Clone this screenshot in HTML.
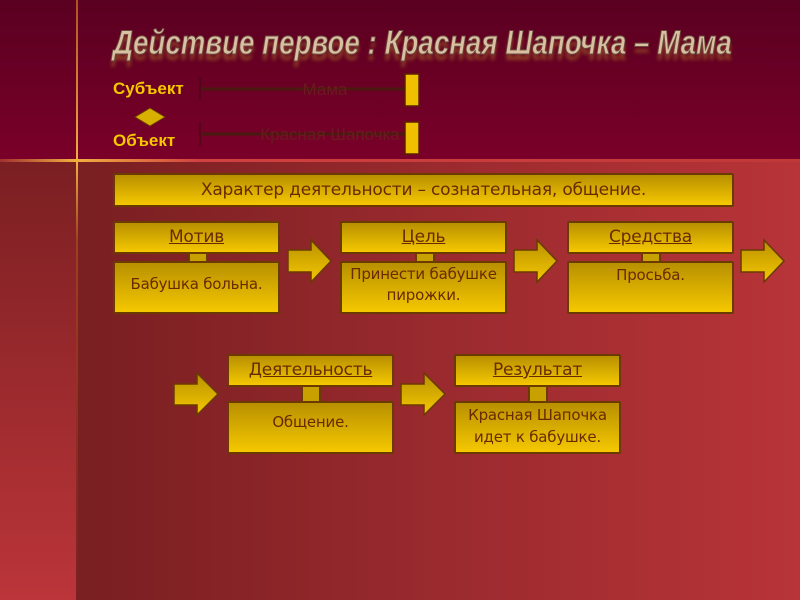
<!DOCTYPE html>
<html><head><meta charset="utf-8"><style>
*{margin:0;padding:0;box-sizing:border-box}
body{width:800px;height:600px;overflow:hidden;position:relative;font-family:"DejaVu Sans","Liberation Sans",sans-serif;background:linear-gradient(90deg,#7a1f22 0%,#7a1f22 12%,#9a2a2e 55%,#b83438 100%)}
.top{position:absolute;left:0;top:0;width:800px;height:160px;background:linear-gradient(180deg,#5a0020,#7a0029)}
.left{position:absolute;left:0;top:160px;width:77px;height:440px;background:linear-gradient(180deg,#7a1f22,#bb3539)}
.vl{position:absolute;left:76px;top:0;width:2px;height:600px;background:linear-gradient(180deg,#b05020,#f0b040 27%,#a04020 40%,#7a2020)}
.hl{position:absolute;left:0;top:159px;width:800px;height:3px;background:linear-gradient(90deg,#a03030,#f0b040 9.5%,#d04040 25%,#c03838)}
.box{position:absolute;border:2px solid #6a3a00;background:linear-gradient(180deg,#b89000,#f5c800);color:#6a2a00;text-align:center;font-size:15px;border-radius:2px;letter-spacing:-0.2px}
.h{text-decoration:underline;font-size:17px;line-height:28px}
.st{position:absolute;background:#c8a000;border-left:2px solid #6a3a00;border-right:2px solid #6a3a00}
.title{position:absolute;left:113px;top:24px;font-family:"Liberation Sans",sans-serif;font-weight:bold;font-style:italic;font-size:34px;color:#d8c0a0;-webkit-text-stroke:1px #6a4a40;text-shadow:0 6px 4px rgba(180,120,40,.5);transform:scaleX(0.815);transform-origin:left;white-space:nowrap}
.lbl{position:absolute;font-family:"Liberation Sans",sans-serif;font-weight:bold;color:#f5c800;font-size:17px}
svg{position:absolute;left:0;top:0}
</style></head><body>
<div class="top"></div><div class="left"></div><div class="vl"></div><div class="hl"></div>
<div class="title">Действие первое : Красная Шапочка – Мама</div>
<div class="lbl" style="left:113px;top:79px">Субъект</div>
<div class="lbl" style="left:113px;top:131px">Объект</div>
<svg width="800" height="600">
<line x1="201" y1="89" x2="405" y2="89" stroke="#4a1a10" stroke-width="3"/>
<line x1="201" y1="134" x2="405" y2="134" stroke="#4a1a10" stroke-width="3"/>
<line x1="200" y1="78" x2="200" y2="100" stroke="#3a0a10" stroke-width="1"/>
<line x1="200" y1="122" x2="200" y2="146" stroke="#3a0a10" stroke-width="1"/>
<text x="325" y="95" font-family="Liberation Sans" font-size="17" fill="#6a1a20" text-anchor="middle">Мама</text>
<text x="330" y="140" font-family="Liberation Sans" font-size="17" fill="#6a1a20" text-anchor="middle">Красная Шапочка</text>
<rect x="405" y="74" width="14" height="32" fill="#f0c000" stroke="#5a2000" stroke-width="1.5"/>
<rect x="405" y="122" width="14" height="32" fill="#f0c000" stroke="#5a2000" stroke-width="1.5"/>
<polygon points="150,108 165,117 150,126 135,117" fill="#d8b000" stroke="#6a3a00"/>
<defs><linearGradient id="g" x1="0" y1="0" x2="0" y2="1"><stop offset="0" stop-color="#b89000"/><stop offset="1" stop-color="#f5c800"/></linearGradient></defs>
<g fill="url(#g)" stroke="#6a3a00" stroke-width="1.5">
<polygon points="288,250 311,250 311,240 331,261 311,282 311,272 288,272"/>
<polygon points="514,250 537,250 537,240 557,261 537,282 537,272 514,272"/>
<polygon points="741,250 764,250 764,240 784,261 764,282 764,272 741,272"/>
<polygon points="174,384 197,384 197,373 218,394 197,415 197,405 174,405"/>
<polygon points="401,384 424,384 424,373 445,394 424,415 424,405 401,405"/>
</g>
</svg>
<div class="box" style="left:113px;top:173px;width:621px;height:34px;font-size:17px;line-height:30px">Характер деятельности – сознательная, общение.</div>
<div class="st" style="left:188px;top:251px;width:20px;height:12px"></div>
<div class="box" style="left:113px;top:221px;width:167px;height:33px"><div class="h">Мотив</div></div>
<div class="box" style="left:113px;top:261px;width:167px;height:53px;padding-top:12px">Бабушка больна.</div>
<div class="st" style="left:415px;top:251px;width:20px;height:12px"></div>
<div class="box" style="left:340px;top:221px;width:167px;height:33px"><div class="h">Цель</div></div>
<div class="box" style="left:340px;top:261px;width:167px;height:53px;padding-top:1px;line-height:21px">Принести бабушке пирожки.</div>
<div class="st" style="left:641px;top:251px;width:20px;height:12px"></div>
<div class="box" style="left:567px;top:221px;width:167px;height:33px"><div class="h">Средства</div></div>
<div class="box" style="left:567px;top:261px;width:167px;height:53px;padding-top:3px">Просьба.</div>
<div class="st" style="left:301px;top:385px;width:20px;height:18px"></div>
<div class="box" style="left:227px;top:354px;width:167px;height:33px"><div class="h">Деятельность</div></div>
<div class="box" style="left:227px;top:401px;width:167px;height:53px;padding-top:10px">Общение.</div>
<div class="st" style="left:528px;top:385px;width:20px;height:18px"></div>
<div class="box" style="left:454px;top:354px;width:167px;height:33px"><div class="h">Результат</div></div>
<div class="box" style="left:454px;top:401px;width:167px;height:53px;padding-top:1px;line-height:22px">Красная Шапочка идет к бабушке.</div>
</body></html>
